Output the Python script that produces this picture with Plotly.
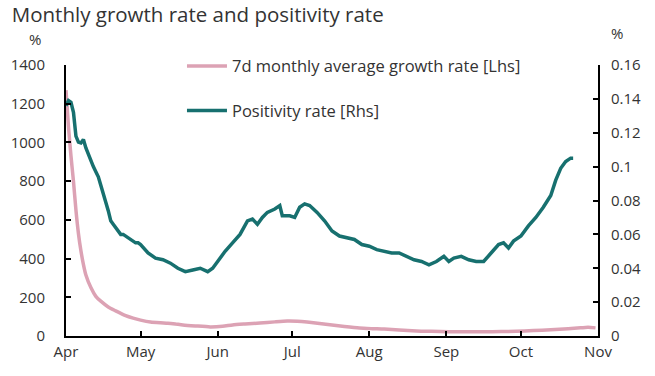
import pandas as pd
import plotly.graph_objects as go

# ---- data ----
start_date = "2020-04-01"

growth_days = [0, 1, 2, 3, 4, 5, 6, 7, 8, 10, 12, 14, 17, 20, 24, 27, 30, 34, 38, 41, 44, 47,
               52, 58, 63, 67, 72, 78, 84, 89, 93, 97, 102, 107, 112, 118, 123, 128, 134, 141,
               147, 154, 161, 168, 175, 181, 188, 195, 202, 207, 210, 213]
growth_vals = [1270, 1080, 930, 800, 650, 530, 440, 370, 315, 250, 205, 180, 150, 130, 105, 92, 82,
               72, 68, 66, 62, 57, 52, 47, 50, 57, 62, 67, 73, 77, 76, 72, 65, 57, 49, 41, 38, 36,
               31, 26, 24, 22, 22, 22, 23, 24, 28, 32, 38, 42, 45, 42]

pos_days = [0, 1, 2, 3, 4, 5, 6, 7, 8, 9, 10, 11, 12, 13, 14, 15, 16, 17, 18, 19, 20, 21, 22, 23,
            24, 25, 26, 27, 28, 29, 30, 33, 36, 39, 42, 45, 48, 51, 54, 57, 59, 61, 64, 67, 70,
            73, 75, 77, 79, 81, 84, 86, 87, 90, 92, 94, 96, 98, 101, 104, 107, 110, 113, 116,
            119, 122, 125, 128, 131, 134, 137, 140, 143, 146, 149, 152, 154, 156, 159, 162, 165,
            168, 171, 174, 176, 178, 180, 183, 186, 189, 192, 195, 197, 199, 201, 203, 204]
pos_vals = [0.136, 0.139, 0.138, 0.132, 0.118, 0.1145, 0.114, 0.116, 0.111, 0.107, 0.103, 0.100,
            0.097, 0.094, 0.089, 0.083, 0.079, 0.074, 0.068, 0.066, 0.064, 0.062, 0.060, 0.060,
            0.059, 0.058, 0.057, 0.056, 0.055, 0.055, 0.054, 0.049, 0.046, 0.045, 0.043, 0.040,
            0.038, 0.039, 0.040, 0.038, 0.040, 0.044, 0.050, 0.055, 0.060, 0.068, 0.069, 0.066,
            0.070, 0.073, 0.075, 0.077, 0.071, 0.071, 0.070, 0.076, 0.078, 0.077, 0.073, 0.068,
            0.062, 0.059, 0.058, 0.057, 0.054, 0.053, 0.051, 0.050, 0.049, 0.049, 0.047, 0.045,
            0.044, 0.042, 0.044, 0.047, 0.044, 0.046, 0.047, 0.045, 0.044, 0.044, 0.049, 0.054,
            0.055, 0.052, 0.056, 0.059, 0.065, 0.070, 0.076, 0.083, 0.092, 0.099, 0.103, 0.105,
            0.105]

title_text = "Monthly growth rate and positivity rate"
growth_name = "7d monthly average growth rate [Lhs]"
pos_name = "Positivity rate [Rhs]"

base = pd.Timestamp(start_date)
growth_x = [base + pd.Timedelta(days=d) for d in growth_days]
pos_x = [base + pd.Timedelta(days=d) for d in pos_days]

FONT = "Open Sans"
TXT = "#333333"

fig = go.Figure()
fig.add_trace(go.Scatter(x=growth_x, y=growth_vals, mode="lines", name=growth_name,
                         line=dict(color="#dca2b4", width=3.5, shape="spline", smoothing=0.6),
                         legendgroup="g1"))
fig.add_trace(go.Scatter(x=pos_x, y=pos_vals, mode="lines", name=pos_name, yaxis="y2",
                         line=dict(color="#17706f", width=3.5), legendgroup="g2"))

axis_common = dict(showline=True, linecolor="black", linewidth=2, ticks="inside",
                   ticklen=5, tickwidth=1.5, tickcolor="black", showgrid=False, zeroline=False,
                   automargin=False, tickfont=dict(family=FONT, size=15, color=TXT))

fig.update_layout(
    width=655, height=376,
    margin=dict(l=66, r=57, t=65, b=40),
    paper_bgcolor="white", plot_bgcolor="white",
    font=dict(family=FONT, color=TXT),
    title=dict(text=title_text, x=0.018, xanchor="left", y=0.96, yanchor="middle",
               font=dict(family=FONT, size=20.5, color=TXT)),
    xaxis=dict(range=["2020-04-01", "2020-11-01"], dtick="M1", tick0="2020-04-01",
               tickformat="%b", ticklabelstandoff=1, **axis_common),
    yaxis=dict(range=[0, 1400], dtick=200, ticklabelstandoff=16, **axis_common),
    yaxis2=dict(range=[0, 0.16], dtick=0.02, overlaying="y", side="right",
                ticklabelstandoff=8, **axis_common),
    legend=dict(x=0.218, y=1.06, xanchor="left", yanchor="top", tracegroupgap=20,
                itemwidth=40, bgcolor="rgba(0,0,0,0)",
                font=dict(family=FONT, size=16.5, color=TXT)),
    showlegend=True,
    annotations=[
        dict(text="%", xref="paper", yref="paper", x=-0.058, y=1.096, xanchor="center",
             yanchor="middle", showarrow=False, font=dict(family=FONT, size=15, color=TXT)),
        dict(text="%", xref="paper", yref="paper", x=1.035, y=1.118, xanchor="center",
             yanchor="middle", showarrow=False, font=dict(family=FONT, size=15, color=TXT)),
    ],
)

fig.write_html("out.html", config={"displayModeBar": False},
               post_script="document.body.style.margin='0px';")
